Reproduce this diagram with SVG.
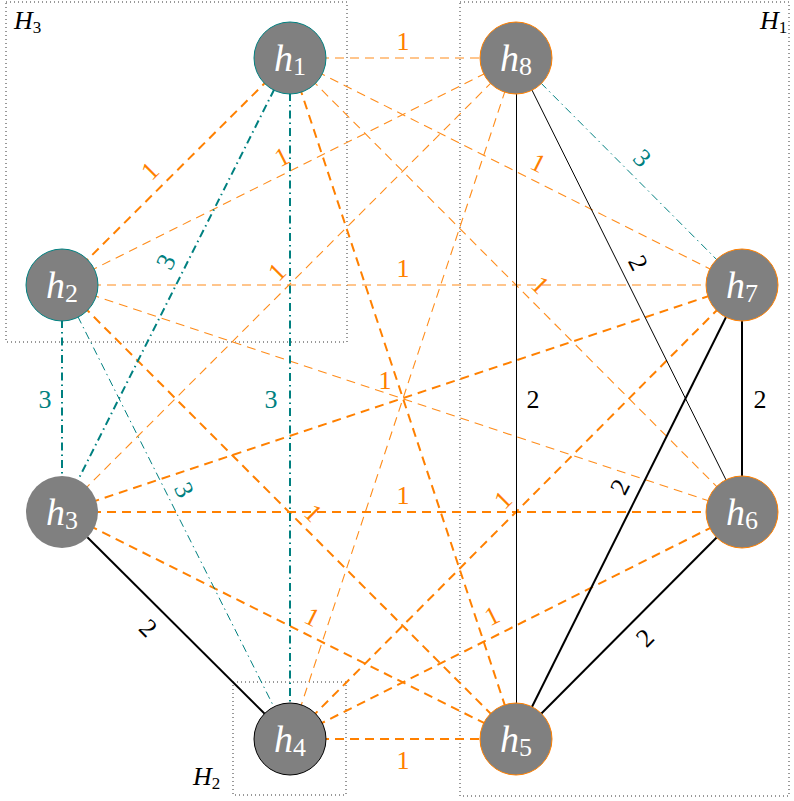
<svg xmlns="http://www.w3.org/2000/svg" width="794" height="801" viewBox="0 0 794 801">
<style>
.o1{stroke:#ff8000;stroke-width:2;stroke-dasharray:9 6;fill:none}
.o2{stroke:#ff8c1a;stroke-width:1.1;stroke-dasharray:9 6;fill:none}
.t1{stroke:#008080;stroke-width:2;stroke-dasharray:8 4 1.5 4;fill:none}
.t2{stroke:#008080;stroke-width:1;stroke-dasharray:8 4 1.5 4;fill:none}
.b1{stroke:#000;stroke-width:2;fill:none}
.b2{stroke:#000;stroke-width:1;fill:none}
.box{fill:none;stroke:#333;stroke-width:1;stroke-dasharray:1 3}
.node{fill:#808080}
.nt{font-size:38px;fill:#fff;text-anchor:middle}
.lbl{font-size:26px;text-anchor:middle;dominant-baseline:central}
.lo{fill:#ff8000}
.lt{fill:#008080}
.lb{fill:#000}
.gl{font-size:26px;fill:#000}
</style>
<g id="groups" font-family="Liberation Serif, serif">
<rect class="box" x="6" y="2" width="341" height="340"/>
<rect class="box" x="460" y="2" width="329" height="794"/>
<rect class="box" x="233" y="682" width="113" height="113"/>
<text class="gl" x="14" y="29"><tspan font-style="italic">H</tspan><tspan font-size="17" dy="4">3</tspan></text>
<text class="gl" x="760" y="29"><tspan font-style="italic">H</tspan><tspan font-size="17" dy="4">1</tspan></text>
<text class="gl" x="193" y="785"><tspan font-style="italic">H</tspan><tspan font-size="17" dy="4">2</tspan></text>
</g>
<g id="edges">
<line class="o2" x1="290" y1="58" x2="516" y2="58"/>
<line class="o2" x1="290" y1="58" x2="742" y2="512"/>
<line class="o2" x1="290" y1="58" x2="742" y2="285"/>
<line class="o2" x1="62" y1="285" x2="516" y2="58"/>
<line class="o2" x1="62" y1="285" x2="742" y2="285"/>
<line class="o2" x1="62" y1="285" x2="742" y2="512"/>
<line class="o2" x1="62" y1="512" x2="516" y2="58"/>
<line class="o2" x1="290" y1="739" x2="516" y2="58"/>
<line class="o1" x1="290" y1="58" x2="62" y2="285"/>
<line class="o1" x1="290" y1="58" x2="516" y2="739"/>
<line class="o1" x1="62" y1="285" x2="516" y2="739"/>
<line class="o1" x1="62" y1="512" x2="742" y2="285"/>
<line class="o1" x1="62" y1="512" x2="742" y2="512"/>
<line class="o1" x1="62" y1="512" x2="516" y2="739"/>
<line class="o1" x1="290" y1="739" x2="742" y2="285"/>
<line class="o1" x1="290" y1="739" x2="742" y2="512"/>
<line class="o1" x1="290" y1="739" x2="516" y2="739"/>
<line class="t1" x1="290" y1="58" x2="62" y2="512"/>
<line class="t1" x1="290" y1="58" x2="290" y2="739"/>
<line class="t1" x1="62" y1="285" x2="62" y2="512"/>
<line class="t2" x1="62" y1="285" x2="290" y2="739"/>
<line class="t2" x1="516" y1="58" x2="742" y2="285"/>
<line class="b2" x1="516.5" y1="58" x2="516.5" y2="739"/>
<line class="b2" x1="516" y1="58" x2="742" y2="512"/>
<line class="b1" x1="742" y1="285" x2="742" y2="512"/>
<line class="b1" x1="742" y1="285" x2="516" y2="739"/>
<line class="b1" x1="742" y1="512" x2="516" y2="739"/>
<line class="b1" x1="62" y1="512" x2="290" y2="739"/>
</g>
<g id="edge-labels" font-family="Liberation Serif, serif">
<text class="lbl lo" x="403" y="41">1</text>
<text class="lbl lo" transform="translate(150,171) rotate(-45)">1</text>
<text class="lbl lo" transform="translate(282,157) rotate(-26.6)">1</text>
<text class="lbl lo" transform="translate(277,272) rotate(-45)">1</text>
<text class="lbl lo" x="403" y="268">1</text>
<text class="lbl lo" transform="translate(538,163) rotate(26.6)">1</text>
<text class="lbl lo" transform="translate(540,285) rotate(45)">1</text>
<text class="lbl lo" x="385" y="380">1</text>
<text class="lbl lo" x="403" y="495">1</text>
<text class="lbl lo" transform="translate(313,513) rotate(45)">1</text>
<text class="lbl lo" transform="translate(503,500) rotate(-45)">1</text>
<text class="lbl lo" transform="translate(312,617) rotate(26.6)">1</text>
<text class="lbl lo" transform="translate(492,616) rotate(-26.6)">1</text>
<text class="lbl lo" x="403" y="760">1</text>
<text class="lbl lt" transform="translate(166,262) rotate(-63.4)">3</text>
<text class="lbl lt" x="271" y="399">3</text>
<text class="lbl lt" x="45" y="399">3</text>
<text class="lbl lt" transform="translate(184,490) rotate(63.4)">3</text>
<text class="lbl lt" transform="translate(642,158) rotate(45)">3</text>
<text class="lbl lb" x="533" y="399">2</text>
<text class="lbl lb" x="760" y="399">2</text>
<text class="lbl lb" transform="translate(638,263) rotate(63.4)">2</text>
<text class="lbl lb" transform="translate(620,487) rotate(-63.4)">2</text>
<text class="lbl lb" transform="translate(645,638) rotate(-45)">2</text>
<text class="lbl lb" transform="translate(148,628) rotate(45)">2</text>
</g>
<g id="nodes" font-family="Liberation Serif, serif">
<g id="h1"><circle class="node" cx="290" cy="58" r="36" stroke="#008080" stroke-width="1"/><text class="nt" x="290" y="71"><tspan font-style="italic">h</tspan><tspan font-size="26" dy="4">1</tspan></text></g>
<g id="h2"><circle class="node" cx="62" cy="285" r="36" stroke="#008080" stroke-width="1"/><text class="nt" x="62" y="298"><tspan font-style="italic">h</tspan><tspan font-size="26" dy="4">2</tspan></text></g>
<g id="h3"><circle class="node" cx="62" cy="512" r="36"/><text class="nt" x="62" y="525"><tspan font-style="italic">h</tspan><tspan font-size="26" dy="4">3</tspan></text></g>
<g id="h4"><circle class="node" cx="290" cy="739" r="36" stroke="#000" stroke-width="1"/><text class="nt" x="290" y="752"><tspan font-style="italic">h</tspan><tspan font-size="26" dy="4">4</tspan></text></g>
<g id="h5"><circle class="node" cx="516" cy="739" r="36" stroke="#ff8000" stroke-width="1"/><text class="nt" x="516" y="752"><tspan font-style="italic">h</tspan><tspan font-size="26" dy="4">5</tspan></text></g>
<g id="h6"><circle class="node" cx="742" cy="512" r="36" stroke="#ff8000" stroke-width="1"/><text class="nt" x="742" y="525"><tspan font-style="italic">h</tspan><tspan font-size="26" dy="4">6</tspan></text></g>
<g id="h7"><circle class="node" cx="742" cy="285" r="36" stroke="#ff8000" stroke-width="1"/><text class="nt" x="742" y="298"><tspan font-style="italic">h</tspan><tspan font-size="26" dy="4">7</tspan></text></g>
<g id="h8"><circle class="node" cx="516" cy="58" r="36" stroke="#ff8000" stroke-width="1"/><text class="nt" x="516" y="71"><tspan font-style="italic">h</tspan><tspan font-size="26" dy="4">8</tspan></text></g>
</g>
</svg>
